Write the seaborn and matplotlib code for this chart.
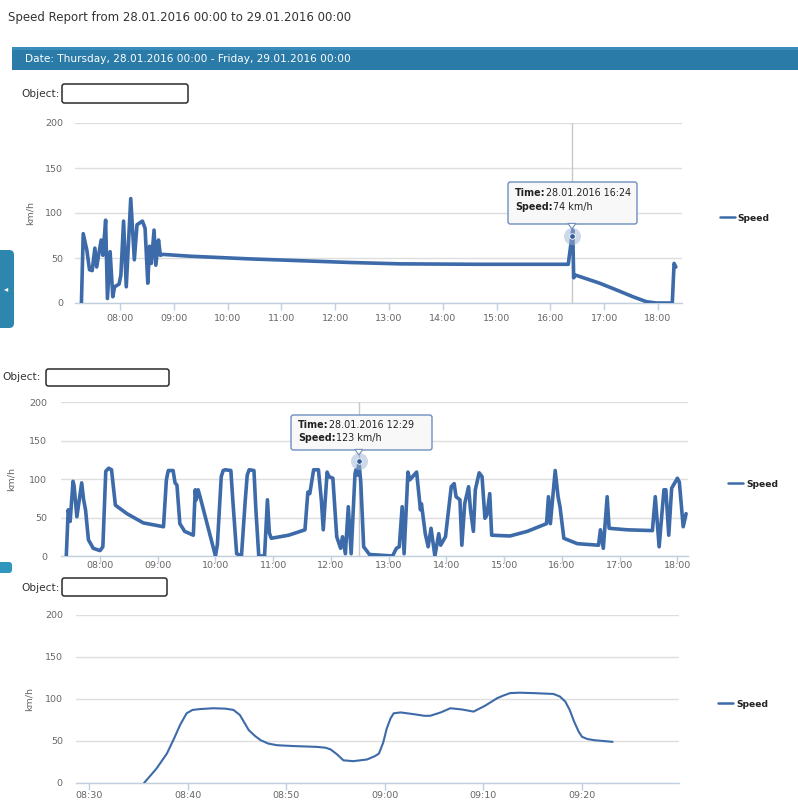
import pandas as pd
import matplotlib
matplotlib.use("Agg")
import matplotlib.pyplot as plt
import matplotlib.dates as mdates
from matplotlib.patches import FancyBboxPatch, Rectangle, Polygon
from matplotlib.text import Annotation
import seaborn as sns

# chart 1: whole day, coarse track
c1_times = ["07:17", "07:19", "07:23", "07:26", "07:29", "07:32", "07:34", "07:39", "07:41", "07:44",
            "07:46", "07:49", "07:52", "07:54", "07:59", "08:01", "08:04", "08:07", "08:12", "08:16",
            "08:19", "08:22", "08:25", "08:28", "08:31", "08:33", "08:35", "08:38", "08:40", "08:43",
            "08:45", "08:48", "09:18", "10:25", "11:21", "12:17", "13:12", "14:41", "16:17", "16:20",
            "16:24", "16:25", "16:26", "16:28", "16:55", "17:15", "17:32", "17:47", "17:58", "18:16",
            "18:18", "18:20"]
c1_speed = [0, 77, 59, 37, 36, 61, 40, 70, 53, 92,
            5, 57, 7, 18, 21, 31, 91, 18, 116, 48,
            87, 89, 91, 83, 22, 63, 44, 81, 42, 70,
            53, 54, 52, 49, 47, 45, 43.5, 43, 43, 43,
            74, 81, 28, 31, 22, 14, 7, 1.5, 0, 0,
            44, 40]

# chart 2: whole day, busy track
c2_times = ["07:25", "07:27", "07:29", "07:32", "07:33", "07:36", "07:41", "07:43", "07:45", "07:48",
            "07:53", "08:00", "08:03", "08:06", "08:09", "08:12", "08:16", "08:28", "08:45", "09:06",
            "09:09", "09:11", "09:16", "09:18", "09:20", "09:23", "09:28", "09:37", "09:39", "09:40",
            "09:42", "09:44", "10:00", "10:02", "10:06", "10:08", "10:10", "10:16", "10:18", "10:22",
            "10:27", "10:31", "10:33", "10:35", "10:40", "10:42", "10:45", "10:51", "10:54", "10:56",
            "10:58", "11:16", "11:33", "11:36", "11:38", "11:42", "11:47", "11:50", "11:52", "11:56",
            "11:58", "12:02", "12:06", "12:10", "12:12", "12:15", "12:18", "12:21", "12:25", "12:26",
            "12:28", "12:29", "12:31", "12:34", "12:40", "13:04", "13:08", "13:11", "13:14", "13:16",
            "13:20", "13:22", "13:29", "13:33", "13:34", "13:38", "13:41", "13:44", "13:48", "13:52",
            "13:54", "13:59", "14:05", "14:08", "14:10", "14:14", "14:16", "14:19", "14:23", "14:25",
            "14:28", "14:30", "14:34", "14:37", "14:40", "14:42", "14:45", "14:47", "15:06", "15:24",
            "15:44", "15:46", "15:48", "15:53", "15:56", "15:58", "16:02", "16:16", "16:38", "16:40",
            "16:43", "16:47", "16:49", "17:08", "17:34", "17:37", "17:41", "17:46", "17:48", "17:51",
            "17:54", "18:00", "18:02", "18:06", "18:09"]
c2_speed = [0, 60, 45, 97, 92, 51, 95, 73, 60, 21,
            10, 7, 12, 110, 114, 112, 66, 55, 43, 38,
            99, 111, 111, 95, 92, 42, 32, 27, 86, 73,
            86, 77, 0, 15, 103, 111, 112, 111, 73, 3,
            0, 73, 105, 112, 111, 60, 0, 0, 73, 30,
            23, 27, 34, 83, 81, 112, 112, 73, 34, 109,
            103, 101, 25, 10, 25, 3, 64, 3, 107, 112,
            105, 123, 96, 12, 2, 0, 10, 12, 64, 3,
            109, 99, 109, 60, 68, 29, 12, 36, 0, 29,
            14, 25, 90, 94, 77, 73, 14, 68, 90, 60,
            32, 86, 108, 103, 49, 53, 81, 27, 26, 32,
            42, 77, 42, 111, 77, 64, 23, 16, 14, 34,
            10, 77, 36, 34, 33, 77, 12, 86, 86, 27,
            88, 101, 96, 38, 55]

# chart 3: one trip, 08:35 - 09:23
c3_times = ["08:35:35", "08:36:50", "08:37:54", "08:38:40", "08:39:14", "08:39:54", "08:40:30",
            "08:41:16", "08:42:36", "08:43:50", "08:44:39", "08:45:18", "08:45:45", "08:46:12",
            "08:46:50", "08:47:24", "08:48:10", "08:49:03", "08:50:42", "08:53:06", "08:54:00",
            "08:54:30", "08:55:10", "08:55:48", "08:56:48", "08:58:12", "08:59:00", "08:59:24",
            "08:59:50", "09:00:12", "09:00:35", "09:00:54", "09:01:36", "09:02:54", "09:04:00",
            "09:04:36", "09:05:40", "09:06:39", "09:07:50", "09:09:00", "09:10:10", "09:11:24",
            "09:12:00", "09:12:42", "09:13:40", "09:15:06", "09:17:06", "09:17:45", "09:18:18",
            "09:18:45", "09:19:12", "09:19:40", "09:20:00", "09:20:30", "09:21:12", "09:23:06"]
c3_speed = [0, 17, 35, 54, 69, 83, 87,
            88, 89, 88.5, 87, 81, 72, 63,
            56, 51, 47, 45, 44, 43, 42,
            40, 34, 27, 26, 28, 32, 35,
            48, 65, 77, 83, 84, 82, 80,
            80, 84, 89, 87.5, 85, 92, 101,
            104, 107, 107.5, 107, 106, 103, 97,
            87, 73, 61, 55, 52.5, 51, 49]

title_text = "Speed Report from 28.01.2016 00:00 to 29.01.2016 00:00"
header_text = "Date: Thursday, 28.01.2016 00:00 - Friday, 29.01.2016 00:00"

DAY = "2016-01-28 "
LINE = "#3D6AA8"
TICK_TXT = "#666666"
AXIS_LINE = "#C0D0E0"

W, H = 798, 807
sns.set_theme(style="white")
plt.rcParams["font.family"] = ["DejaVu Sans"]

fig = plt.figure(figsize=(W / 100, H / 100), dpi=100)
fig.patch.set_facecolor("white")


def fx(px):
    return px / W


def fy(py):
    return 1 - py / H


def rect(l, t, r, b):
    return [l / W, 1 - b / H, (r - l) / W, (b - t) / H]


def to_dt(times):
    return pd.to_datetime([DAY + t for t in times])


def draw_chart(box, times, speed, lw, xlim, locator, label_x, legend_xy, pads):
    ax = fig.add_axes(rect(*box))
    df = pd.DataFrame({"time": to_dt(times), "speed": speed})
    sns.lineplot(data=df, x="time", y="speed", ax=ax, color=LINE, linewidth=lw,
                 label="Speed", estimator=None, sort=False,
                 solid_joinstyle="round", solid_capstyle="round")
    ax.set_ylim(0, 200)
    ax.set_yticks([0, 50, 100, 150, 200])
    ax.set_xlim(pd.Timestamp(DAY + xlim[0]), pd.Timestamp(DAY + xlim[1]))
    ax.xaxis.set_major_locator(locator)
    ax.xaxis.set_major_formatter(mdates.DateFormatter("%H:%M"))
    for s in ["top", "right", "left"]:
        ax.spines[s].set_visible(False)
    ax.spines["bottom"].set_color(AXIS_LINE)
    ax.spines["bottom"].set_linewidth(1)
    ax.spines["bottom"].set_zorder(0.5)
    ax.grid(axis="y", color="#DEDEDE", linewidth=1)
    ax.grid(axis="x", visible=False)
    ax.set_axisbelow(True)
    ax.tick_params(axis="x", length=5, width=1, color=AXIS_LINE, labelcolor=TICK_TXT,
                   labelsize=6.8, pad=pads[0], bottom=True)
    ax.tick_params(axis="y", length=0, labelcolor=TICK_TXT, labelsize=6.8, pad=pads[1])
    ax.set_xlabel("")
    ax.set_ylabel("km/h", color=TICK_TXT, fontsize=6.8)
    ax.yaxis.set_label_coords(label_x, 0.5)
    leg = ax.legend(loc="center left", bbox_to_anchor=legend_xy, frameon=False,
                    fontsize=6.6, handlelength=1.6, handletextpad=0.35,
                    borderpad=0, borderaxespad=0)
    for h in leg.get_lines():
        h.set_linewidth(1.8)
    for t in leg.get_texts():
        t.set_fontweight("bold")
        t.set_color("#222222")
    return ax


def object_row(tx, ty, bx0, by0, bx1, by1):
    fig.text(fx(tx), fy(ty), "Object:", fontsize=7.6, color="#333333", ha="left", va="center")
    fig.add_artist(FancyBboxPatch((fx(bx0), fy(by1)), (bx1 - bx0) / W, (by1 - by0) / H,
                                  boxstyle="round,pad=0,rounding_size=0.003",
                                  transform=fig.transFigure, fc="white", ec="#2b2b2b", lw=1.1))


def tooltip(ax, when, value, box, ty, time_label, speed_label):
    x0, y0, x1, y1 = box
    tip = pd.Timestamp(DAY + when)
    ax.axvline(tip, color="#C8C8C8", lw=1, zorder=1)
    ax.scatter([tip], [value], s=150, color="#9DB3D3", alpha=0.5, zorder=5, clip_on=False, lw=0)
    ax.scatter([tip], [value], s=16, color="#2F5C99", edgecolor="white", lw=0.6, zorder=6,
               clip_on=False)
    fig.add_artist(FancyBboxPatch((fx(x0), fy(y1)), (x1 - x0) / W, (y1 - y0) / H,
                                  boxstyle="round,pad=0,rounding_size=0.003",
                                  transform=fig.transFigure, fc="#F8F8F8", ec="#6F8FBF", lw=1))
    cx = ax.transData.transform((mdates.date2num(tip), 0))[0]
    fig.add_artist(Polygon([(cx / W - 4 / W, fy(y1) + 0.6 / H), (cx / W + 4 / W, fy(y1) + 0.6 / H),
                            (cx / W, fy(y1 + 5))], closed=True, transform=fig.transFigure,
                           fc="#F8F8F8", ec="#6F8FBF", lw=0.8))
    for (key, val), yy in zip([("Time:", time_label), ("Speed:", speed_label)], ty):
        t = fig.text(fx(x0 + 7), fy(yy), key, fontsize=6.9, weight="bold", color="#222222",
                     ha="left", va="center")
        fig.add_artist(Annotation(val, xy=(1, 0.5), xycoords=t, fontsize=6.9, color="#222222",
                                  ha="left", va="center"))


# page header
fig.text(fx(8), fy(17), title_text, fontsize=8.5, color="#333333", ha="left", va="center")
fig.add_artist(Rectangle((fx(12), fy(70)), (798 - 12) / W, 23 / H, transform=fig.transFigure,
                         fc="#2B7BA8", ec="none"))
fig.add_artist(Rectangle((fx(12), fy(50)), (798 - 12) / W, 3 / H, transform=fig.transFigure,
                         fc="#3A8DBA", ec="none"))
fig.text(fx(25), fy(59), header_text, fontsize=7.6, color="white", ha="left", va="center")

# left side tabs
fig.add_artist(FancyBboxPatch((fx(-6), fy(328)), 20 / W, 78 / H,
                              boxstyle="round,pad=0,rounding_size=0.006",
                              transform=fig.transFigure, fc="#2C86AE", ec="none"))
fig.text(fx(6), fy(289), "\u25C2", fontsize=6, color="white", ha="center", va="center")
fig.add_artist(FancyBboxPatch((fx(-6), fy(573)), 18 / W, 11 / H,
                              boxstyle="round,pad=0,rounding_size=0.004",
                              transform=fig.transFigure, fc="#3196BE", ec="none"))

# chart 1
object_row(21, 94, 62, 84, 188, 103)
ax1 = draw_chart((75, 123, 682, 303), c1_times, c1_speed, 2.6,
                 ("07:09:50", "18:26:50"), mdates.HourLocator(),
                 -40 / 607, (1.0626, 0.472), (3.0, 8.5))
tooltip(ax1, "16:24", 74, (508, 182, 637, 224), (193, 207),
        "28.01.2016 16:24", "74 km/h")

# chart 2
object_row(2, 377, 46, 369, 169, 386)
ax2 = draw_chart((61, 402, 688, 556), c2_times, c2_speed, 2.6,
                 ("07:19:30", "18:11:00"), mdates.HourLocator(),
                 -45 / 627, (1.0638, 0.4675), (-1.5, 10.0))
tooltip(ax2, "12:29", 123, (291, 415, 432, 450), (425, 438),
        "28.01.2016 12:29", "123 km/h")

# chart 3
object_row(21, 588, 62, 578, 167, 596)
ax3 = draw_chart((76, 615, 679, 783), c3_times, c3_speed, 1.5,
                 ("08:28:41", "09:29:50"), mdates.MinuteLocator(byminute=range(0, 60, 10)),
                 -42 / 603, (1.0647, 0.470), (0.5, 9.5))

fig.savefig("out.png", dpi=100)
